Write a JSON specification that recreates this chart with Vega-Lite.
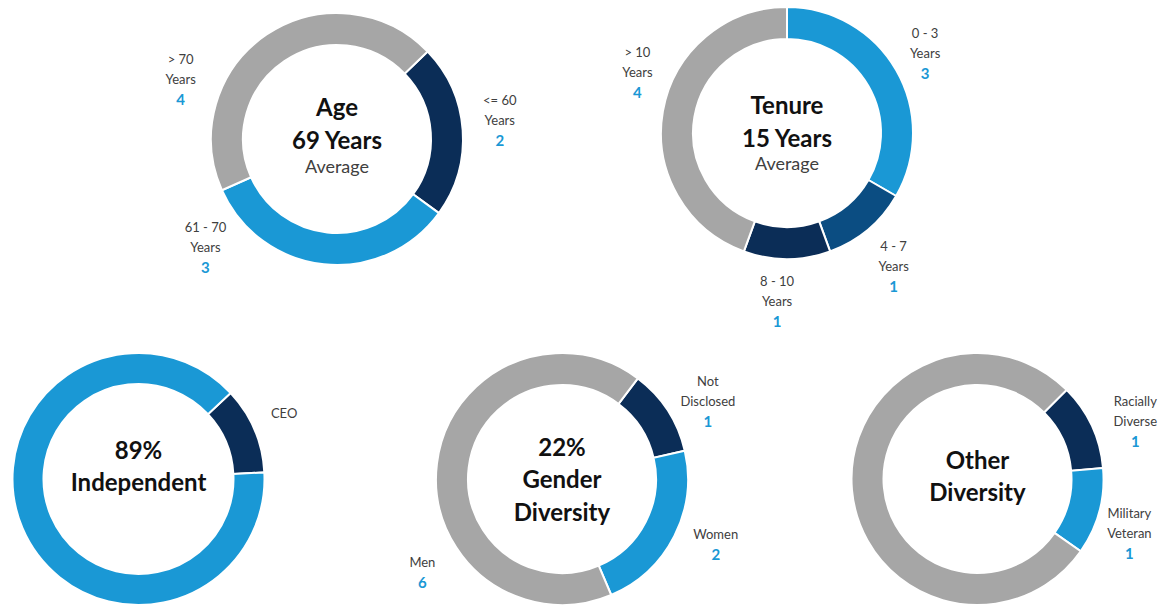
{
  "$schema": "https://vega.github.io/schema/vega-lite/v6.json",
  "padding": 0,
  "background": "white",
  "columns": 5,
  "align": "each",
  "bounds": "flush",
  "spacing": {"row": 75, "column": 0},
  "datasets": {
    "age": [
      {"i": 1, "cat": "<= 60", "count": 2, "l1": "<= 60", "l2": "Years", "num": "2"},
      {"i": 2, "cat": "61 - 70", "count": 3, "l1": "61 - 70", "l2": "Years", "num": "3"},
      {"i": 3, "cat": "> 70", "count": 4, "l1": "> 70", "l2": "Years", "num": "4"}
    ],
    "tenure": [
      {"i": 1, "cat": "0 - 3", "count": 3, "l1": "0 - 3", "l2": "Years", "num": "3"},
      {"i": 2, "cat": "4 - 7", "count": 1, "l1": "4 - 7", "l2": "Years", "num": "1"},
      {"i": 3, "cat": "8 - 10", "count": 1, "l1": "8 - 10", "l2": "Years", "num": "1"},
      {"i": 4, "cat": "> 10", "count": 4, "l1": "> 10", "l2": "Years", "num": "4"}
    ],
    "independence": [
      {"i": 1, "cat": "CEO", "count": 1, "l1": "", "l2": "CEO", "num": ""},
      {"i": 2, "cat": "Independent", "count": 8, "l1": "", "l2": "", "num": ""}
    ],
    "gender": [
      {"i": 1, "cat": "Not Disclosed", "count": 1, "l1": "Not", "l2": "Disclosed", "num": "1"},
      {"i": 2, "cat": "Women", "count": 2, "l1": "", "l2": "Women", "num": "2"},
      {"i": 3, "cat": "Men", "count": 6, "l1": "", "l2": "Men", "num": "6"}
    ],
    "other": [
      {"i": 1, "cat": "Racially Diverse", "count": 1, "l1": "Racially", "l2": "Diverse", "num": "1"},
      {"i": 2, "cat": "Military Veteran", "count": 1, "l1": "Military", "l2": "Veteran", "num": "1"},
      {"i": 3, "cat": "Other", "count": 7, "l1": "", "l2": "", "num": ""}
    ]
  },
  "concat": [
    {"width": 1, "height": 1, "data": {"values": []}, "mark": {"type": "point"}, "encoding": {}},
    {
      "width": 120, "height": 278,
      "data": {"name": "age"},
      "layer": [
        {"mark": {"type": "arc", "outerRadius": 126, "innerRadius": 94, "stroke": "white", "strokeWidth": 2},
         "encoding": {
           "theta": {"field": "count", "type": "quantitative", "stack": true, "scale": {"range": [0.8029, 7.0861]}},
           "order": {"field": "i", "type": "quantitative"},
           "color": {"field": "cat", "type": "nominal", "scale": {"domain": ["<= 60", "61 - 70", "> 70"], "range": ["#0B2D57", "#1A98D5", "#A6A6A6"]}, "legend": null}
         }},
        {"transform": [{"filter": "datum.i <= 1"}],
         "mark": {"type": "text", "radius": 163, "baseline": "middle", "dy": -29, "fontSize": 13, "color": "#404040"},
         "encoding": {"theta": {"field": "count", "type": "quantitative", "stack": true, "bandPosition": 0.51}, "order": {"field": "i", "type": "quantitative"}, "detail": {"field": "cat", "type": "nominal"}, "text": {"field": "l1", "type": "nominal"}}},
        {"transform": [{"filter": "datum.i <= 1"}],
         "mark": {"type": "text", "radius": 163, "baseline": "middle", "dy": -9, "fontSize": 13, "color": "#404040"},
         "encoding": {"theta": {"field": "count", "type": "quantitative", "stack": true, "bandPosition": 0.51}, "order": {"field": "i", "type": "quantitative"}, "detail": {"field": "cat", "type": "nominal"}, "text": {"field": "l2", "type": "nominal"}}},
        {"transform": [{"filter": "datum.i <= 1"}],
         "mark": {"type": "text", "radius": 163, "baseline": "middle", "dy": 11, "fontSize": 15, "fontWeight": "bold", "color": "#1A98D5"},
         "encoding": {"theta": {"field": "count", "type": "quantitative", "stack": true, "bandPosition": 0.51}, "order": {"field": "i", "type": "quantitative"}, "detail": {"field": "cat", "type": "nominal"}, "text": {"field": "num", "type": "nominal"}}},
        {"transform": [{"filter": "datum.i <= 2"}],
         "mark": {"type": "text", "radius": 177, "baseline": "middle", "dy": -29, "fontSize": 13, "color": "#404040"},
         "encoding": {"theta": {"field": "count", "type": "quantitative", "stack": true, "bandPosition": 0.85}, "order": {"field": "i", "type": "quantitative"}, "detail": {"field": "cat", "type": "nominal"}, "text": {"condition": {"test": "datum.i === 2", "field": "l1", "type": "nominal"}, "value": ""}}},
        {"transform": [{"filter": "datum.i <= 2"}],
         "mark": {"type": "text", "radius": 177, "baseline": "middle", "dy": -9, "fontSize": 13, "color": "#404040"},
         "encoding": {"theta": {"field": "count", "type": "quantitative", "stack": true, "bandPosition": 0.85}, "order": {"field": "i", "type": "quantitative"}, "detail": {"field": "cat", "type": "nominal"}, "text": {"condition": {"test": "datum.i === 2", "field": "l2", "type": "nominal"}, "value": ""}}},
        {"transform": [{"filter": "datum.i <= 2"}],
         "mark": {"type": "text", "radius": 177, "baseline": "middle", "dy": 11, "fontSize": 15, "fontWeight": "bold", "color": "#1A98D5"},
         "encoding": {"theta": {"field": "count", "type": "quantitative", "stack": true, "bandPosition": 0.85}, "order": {"field": "i", "type": "quantitative"}, "detail": {"field": "cat", "type": "nominal"}, "text": {"condition": {"test": "datum.i === 2", "field": "num", "type": "nominal"}, "value": ""}}},
        {"mark": {"type": "text", "radius": 164, "baseline": "middle", "dy": -29, "fontSize": 13, "color": "#404040"},
         "encoding": {"theta": {"field": "count", "type": "quantitative", "stack": true, "bandPosition": 0.26}, "order": {"field": "i", "type": "quantitative"}, "detail": {"field": "cat", "type": "nominal"}, "text": {"condition": {"test": "datum.i === 3", "field": "l1", "type": "nominal"}, "value": ""}}},
        {"mark": {"type": "text", "radius": 164, "baseline": "middle", "dy": -9, "fontSize": 13, "color": "#404040"},
         "encoding": {"theta": {"field": "count", "type": "quantitative", "stack": true, "bandPosition": 0.26}, "order": {"field": "i", "type": "quantitative"}, "detail": {"field": "cat", "type": "nominal"}, "text": {"condition": {"test": "datum.i === 3", "field": "l2", "type": "nominal"}, "value": ""}}},
        {"mark": {"type": "text", "radius": 164, "baseline": "middle", "dy": 11, "fontSize": 15, "fontWeight": "bold", "color": "#1A98D5"},
         "encoding": {"theta": {"field": "count", "type": "quantitative", "stack": true, "bandPosition": 0.26}, "order": {"field": "i", "type": "quantitative"}, "detail": {"field": "cat", "type": "nominal"}, "text": {"condition": {"test": "datum.i === 3", "field": "num", "type": "nominal"}, "value": ""}}},
        {"data": {"values": [{"t": "Age\n69 Years"}]},
         "mark": {"type": "text", "fontSize": 24, "fontWeight": "bold", "lineHeight": 33, "baseline": "middle", "dy": -30.5, "color": "#111111"},
         "encoding": {"text": {"field": "t", "type": "nominal"}}},
        {"data": {"values": [{"t": "Average"}]},
         "mark": {"type": "text", "fontSize": 18, "baseline": "middle", "dy": 29, "color": "#404040"},
         "encoding": {"text": {"field": "t", "type": "nominal"}}}
      ]
    },
    {"width": 1, "height": 1, "data": {"values": []}, "mark": {"type": "point"}, "encoding": {}},
    {
      "width": 120, "height": 266,
      "data": {"name": "tenure"},
      "layer": [
        {"mark": {"type": "arc", "outerRadius": 126, "innerRadius": 94, "stroke": "white", "strokeWidth": 2},
         "encoding": {
           "theta": {"field": "count", "type": "quantitative", "stack": true, "scale": {"range": [0, 6.2832]}},
           "order": {"field": "i", "type": "quantitative"},
           "color": {"field": "cat", "type": "nominal", "scale": {"domain": ["0 - 3", "4 - 7", "8 - 10", "> 10"], "range": ["#1A98D5", "#0B4D82", "#0B2D57", "#A6A6A6"]}, "legend": null}
         }},
        {"transform": [{"filter": "datum.i <= 1"}],
         "mark": {"type": "text", "radius": 155, "baseline": "middle", "dy": -29, "fontSize": 13, "color": "#404040"},
         "encoding": {"theta": {"field": "count", "type": "quantitative", "stack": true, "bandPosition": 0.525}, "order": {"field": "i", "type": "quantitative"}, "detail": {"field": "cat", "type": "nominal"}, "text": {"field": "l1", "type": "nominal"}}},
        {"transform": [{"filter": "datum.i <= 1"}],
         "mark": {"type": "text", "radius": 155, "baseline": "middle", "dy": -9, "fontSize": 13, "color": "#404040"},
         "encoding": {"theta": {"field": "count", "type": "quantitative", "stack": true, "bandPosition": 0.525}, "order": {"field": "i", "type": "quantitative"}, "detail": {"field": "cat", "type": "nominal"}, "text": {"field": "l2", "type": "nominal"}}},
        {"transform": [{"filter": "datum.i <= 1"}],
         "mark": {"type": "text", "radius": 155, "baseline": "middle", "dy": 11, "fontSize": 15, "fontWeight": "bold", "color": "#1A98D5"},
         "encoding": {"theta": {"field": "count", "type": "quantitative", "stack": true, "bandPosition": 0.525}, "order": {"field": "i", "type": "quantitative"}, "detail": {"field": "cat", "type": "nominal"}, "text": {"field": "num", "type": "nominal"}}},
        {"mark": {"type": "text", "radius": 158, "baseline": "middle", "dy": -29, "fontSize": 13, "color": "#404040"},
         "encoding": {"theta": {"field": "count", "type": "quantitative", "stack": true, "bandPosition": 0.555}, "order": {"field": "i", "type": "quantitative"}, "detail": {"field": "cat", "type": "nominal"}, "text": {"condition": {"test": "datum.i === 4", "field": "l1", "type": "nominal"}, "value": ""}}},
        {"mark": {"type": "text", "radius": 158, "baseline": "middle", "dy": -9, "fontSize": 13, "color": "#404040"},
         "encoding": {"theta": {"field": "count", "type": "quantitative", "stack": true, "bandPosition": 0.555}, "order": {"field": "i", "type": "quantitative"}, "detail": {"field": "cat", "type": "nominal"}, "text": {"condition": {"test": "datum.i === 4", "field": "l2", "type": "nominal"}, "value": ""}}},
        {"mark": {"type": "text", "radius": 158, "baseline": "middle", "dy": 11, "fontSize": 15, "fontWeight": "bold", "color": "#1A98D5"},
         "encoding": {"theta": {"field": "count", "type": "quantitative", "stack": true, "bandPosition": 0.555}, "order": {"field": "i", "type": "quantitative"}, "detail": {"field": "cat", "type": "nominal"}, "text": {"condition": {"test": "datum.i === 4", "field": "num", "type": "nominal"}, "value": ""}}},
        {"transform": [{"filter": "datum.i <= 3"}],
         "mark": {"type": "text", "radius": 178, "baseline": "middle", "dy": -29, "fontSize": 13, "color": "#404040"},
         "encoding": {"theta": {"field": "count", "type": "quantitative", "stack": true, "bandPosition": 0.58}, "order": {"field": "i", "type": "quantitative"}, "detail": {"field": "cat", "type": "nominal"}, "text": {"condition": {"test": "datum.i === 2 || datum.i === 3", "field": "l1", "type": "nominal"}, "value": ""}}},
        {"transform": [{"filter": "datum.i <= 3"}],
         "mark": {"type": "text", "radius": 178, "baseline": "middle", "dy": -9, "fontSize": 13, "color": "#404040"},
         "encoding": {"theta": {"field": "count", "type": "quantitative", "stack": true, "bandPosition": 0.58}, "order": {"field": "i", "type": "quantitative"}, "detail": {"field": "cat", "type": "nominal"}, "text": {"condition": {"test": "datum.i === 2 || datum.i === 3", "field": "l2", "type": "nominal"}, "value": ""}}},
        {"transform": [{"filter": "datum.i <= 3"}],
         "mark": {"type": "text", "radius": 178, "baseline": "middle", "dy": 11, "fontSize": 15, "fontWeight": "bold", "color": "#1A98D5"},
         "encoding": {"theta": {"field": "count", "type": "quantitative", "stack": true, "bandPosition": 0.58}, "order": {"field": "i", "type": "quantitative"}, "detail": {"field": "cat", "type": "nominal"}, "text": {"condition": {"test": "datum.i === 2 || datum.i === 3", "field": "num", "type": "nominal"}, "value": ""}}},
        {"data": {"values": [{"t": "Tenure\n15 Years"}]},
         "mark": {"type": "text", "fontSize": 24, "fontWeight": "bold", "lineHeight": 33, "baseline": "middle", "dy": -26.5, "color": "#111111"},
         "encoding": {"text": {"field": "t", "type": "nominal"}}},
        {"data": {"values": [{"t": "Average"}]},
         "mark": {"type": "text", "fontSize": 18, "baseline": "middle", "dy": 32, "color": "#404040"},
         "encoding": {"text": {"field": "t", "type": "nominal"}}}
      ]
    },
    {"width": 1, "height": 1, "data": {"values": []}, "mark": {"type": "point"}, "encoding": {}},
    {
      "width": 277, "height": 252,
      "data": {"name": "independence"},
      "layer": [
        {"mark": {"type": "arc", "outerRadius": 126, "innerRadius": 95, "stroke": "white", "strokeWidth": 2},
         "encoding": {
           "theta": {"field": "count", "type": "quantitative", "stack": true, "scale": {"range": [0.8203, 7.1035]}},
           "order": {"field": "i", "type": "quantitative"},
           "color": {"field": "cat", "type": "nominal", "scale": {"domain": ["CEO", "Independent"], "range": ["#0B2D57", "#1A98D5"]}, "legend": null}
         }},
        {"transform": [{"filter": "datum.i <= 1"}],
         "mark": {"type": "text", "radius": 156, "baseline": "middle", "dy": -9, "fontSize": 13, "color": "#404040"},
         "encoding": {"theta": {"field": "count", "type": "quantitative", "stack": true, "bandPosition": 0.55}, "order": {"field": "i", "type": "quantitative"}, "detail": {"field": "cat", "type": "nominal"}, "text": {"field": "l2", "type": "nominal"}}},
        {"data": {"values": [{"t": "89%\nIndependent"}]},
         "mark": {"type": "text", "fontSize": 24, "fontWeight": "bold", "lineHeight": 32, "baseline": "middle", "dy": -27.5, "color": "#111111"},
         "encoding": {"text": {"field": "t", "type": "nominal"}}}
      ]
    },
    {"width": 1, "height": 1, "data": {"values": []}, "mark": {"type": "point"}, "encoding": {}},
    {
      "width": 330, "height": 252,
      "data": {"name": "gender"},
      "layer": [
        {"mark": {"type": "arc", "outerRadius": 126, "innerRadius": 94, "stroke": "white", "strokeWidth": 2},
         "encoding": {
           "theta": {"field": "count", "type": "quantitative", "stack": true, "scale": {"range": [0.6458, 6.929]}},
           "order": {"field": "i", "type": "quantitative"},
           "color": {"field": "cat", "type": "nominal", "scale": {"domain": ["Not Disclosed", "Women", "Men"], "range": ["#0B2D57", "#1A98D5", "#A6A6A6"]}, "legend": null}
         }},
        {"transform": [{"filter": "datum.i <= 1"}],
         "mark": {"type": "text", "radius": 161, "baseline": "middle", "dy": -29, "fontSize": 13, "color": "#404040"},
         "encoding": {"theta": {"field": "count", "type": "quantitative", "stack": true, "bandPosition": 0.7}, "order": {"field": "i", "type": "quantitative"}, "detail": {"field": "cat", "type": "nominal"}, "text": {"field": "l1", "type": "nominal"}}},
        {"transform": [{"filter": "datum.i <= 1"}],
         "mark": {"type": "text", "radius": 161, "baseline": "middle", "dy": -9, "fontSize": 13, "color": "#404040"},
         "encoding": {"theta": {"field": "count", "type": "quantitative", "stack": true, "bandPosition": 0.7}, "order": {"field": "i", "type": "quantitative"}, "detail": {"field": "cat", "type": "nominal"}, "text": {"field": "l2", "type": "nominal"}}},
        {"transform": [{"filter": "datum.i <= 1"}],
         "mark": {"type": "text", "radius": 161, "baseline": "middle", "dy": 11, "fontSize": 15, "fontWeight": "bold", "color": "#1A98D5"},
         "encoding": {"theta": {"field": "count", "type": "quantitative", "stack": true, "bandPosition": 0.7}, "order": {"field": "i", "type": "quantitative"}, "detail": {"field": "cat", "type": "nominal"}, "text": {"field": "num", "type": "nominal"}}},
        {"transform": [{"filter": "datum.i <= 2"}],
         "mark": {"type": "text", "radius": 167, "baseline": "middle", "dy": -9, "fontSize": 13, "color": "#404040"},
         "encoding": {"theta": {"field": "count", "type": "quantitative", "stack": true, "bandPosition": 0.45}, "order": {"field": "i", "type": "quantitative"}, "detail": {"field": "cat", "type": "nominal"}, "text": {"condition": {"test": "datum.i === 2", "field": "l2", "type": "nominal"}, "value": ""}}},
        {"transform": [{"filter": "datum.i <= 2"}],
         "mark": {"type": "text", "radius": 167, "baseline": "middle", "dy": 11, "fontSize": 15, "fontWeight": "bold", "color": "#1A98D5"},
         "encoding": {"theta": {"field": "count", "type": "quantitative", "stack": true, "bandPosition": 0.45}, "order": {"field": "i", "type": "quantitative"}, "detail": {"field": "cat", "type": "nominal"}, "text": {"condition": {"test": "datum.i === 2", "field": "num", "type": "nominal"}, "value": ""}}},
        {"mark": {"type": "text", "radius": 168, "baseline": "middle", "dy": -9, "fontSize": 13, "color": "#404040"},
         "encoding": {"theta": {"field": "count", "type": "quantitative", "stack": true, "bandPosition": 0.33}, "order": {"field": "i", "type": "quantitative"}, "detail": {"field": "cat", "type": "nominal"}, "text": {"condition": {"test": "datum.i === 3", "field": "l2", "type": "nominal"}, "value": ""}}},
        {"mark": {"type": "text", "radius": 168, "baseline": "middle", "dy": 11, "fontSize": 15, "fontWeight": "bold", "color": "#1A98D5"},
         "encoding": {"theta": {"field": "count", "type": "quantitative", "stack": true, "bandPosition": 0.33}, "order": {"field": "i", "type": "quantitative"}, "detail": {"field": "cat", "type": "nominal"}, "text": {"condition": {"test": "datum.i === 3", "field": "num", "type": "nominal"}, "value": ""}}},
        {"data": {"values": [{"t": "22%\nGender\nDiversity"}]},
         "mark": {"type": "text", "fontSize": 24, "fontWeight": "bold", "lineHeight": 32.5, "baseline": "middle", "dy": -30.5, "color": "#111111"},
         "encoding": {"text": {"field": "t", "type": "nominal"}}}
      ]
    },
    {"width": 1, "height": 1, "data": {"values": []}, "mark": {"type": "point"}, "encoding": {}},
    {
      "width": 261, "height": 252,
      "data": {"name": "other"},
      "layer": [
        {"mark": {"type": "arc", "outerRadius": 126, "innerRadius": 94, "stroke": "white", "strokeWidth": 2},
         "encoding": {
           "theta": {"field": "count", "type": "quantitative", "stack": true, "scale": {"range": [0.7854, 7.0686]}},
           "order": {"field": "i", "type": "quantitative"},
           "color": {"field": "cat", "type": "nominal", "scale": {"domain": ["Racially Diverse", "Military Veteran", "Other"], "range": ["#0B2D57", "#1A98D5", "#A6A6A6"]}, "legend": null}
         }},
        {"transform": [{"filter": "datum.i <= 2"}],
         "mark": {"type": "text", "radius": 165, "baseline": "middle", "dy": -29, "fontSize": 13, "color": "#404040"},
         "encoding": {"theta": {"field": "count", "type": "quantitative", "stack": true, "bandPosition": 0.7}, "order": {"field": "i", "type": "quantitative"}, "detail": {"field": "cat", "type": "nominal"}, "text": {"field": "l1", "type": "nominal"}}},
        {"transform": [{"filter": "datum.i <= 2"}],
         "mark": {"type": "text", "radius": 165, "baseline": "middle", "dy": -9, "fontSize": 13, "color": "#404040"},
         "encoding": {"theta": {"field": "count", "type": "quantitative", "stack": true, "bandPosition": 0.7}, "order": {"field": "i", "type": "quantitative"}, "detail": {"field": "cat", "type": "nominal"}, "text": {"field": "l2", "type": "nominal"}}},
        {"transform": [{"filter": "datum.i <= 2"}],
         "mark": {"type": "text", "radius": 165, "baseline": "middle", "dy": 11, "fontSize": 15, "fontWeight": "bold", "color": "#1A98D5"},
         "encoding": {"theta": {"field": "count", "type": "quantitative", "stack": true, "bandPosition": 0.7}, "order": {"field": "i", "type": "quantitative"}, "detail": {"field": "cat", "type": "nominal"}, "text": {"field": "num", "type": "nominal"}}},
        {"data": {"values": [{"t": "Other\nDiversity"}]},
         "mark": {"type": "text", "fontSize": 24, "fontWeight": "bold", "lineHeight": 32, "baseline": "middle", "dy": -17.5, "color": "#111111"},
         "encoding": {"text": {"field": "t", "type": "nominal"}}}
      ]
    }
  ],
  "resolve": {"scale": {"color": "independent", "theta": "independent"}},
  "config": {
    "view": {"stroke": null},
    "text": {"font": "Lato", "lineBreak": "\n"}
  }
}
